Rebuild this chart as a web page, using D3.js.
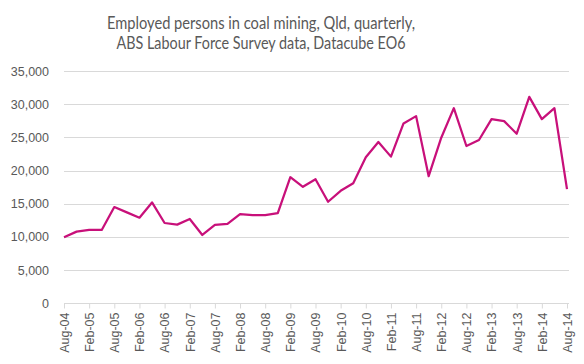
<!DOCTYPE html>
<html>
<head>
<meta charset="utf-8">
<script src="https://cdn.jsdelivr.net/npm/d3@7"></script>
<style>
html,body{margin:0;padding:0;background:#fff;}
svg{display:block;}
</style>
</head>
<body>
<svg id="chart" width="584" height="364"></svg>
<script>
const titleLines = ["Employed persons in coal mining, Qld, quarterly,", "ABS Labour Force Survey data, Datacube EO6"];
const quarters = ["Aug-04","Nov-04","Feb-05","May-05","Aug-05","Nov-05","Feb-06","May-06","Aug-06","Nov-06",
  "Feb-07","May-07","Aug-07","Nov-07","Feb-08","May-08","Aug-08","Nov-08","Feb-09","May-09",
  "Aug-09","Nov-09","Feb-10","May-10","Aug-10","Nov-10","Feb-11","May-11","Aug-11","Nov-11",
  "Feb-12","May-12","Aug-12","Nov-12","Feb-13","May-13","Aug-13","Nov-13","Feb-14","May-14","Aug-14"];
const employed = [9950,10800,11050,11050,14500,13700,12900,15200,12100,11850,
  12700,10300,11800,11950,13450,13300,13300,13600,19000,17550,
  18700,15300,16950,18100,22000,24300,22100,27100,28200,19150,
  24950,29400,23700,24600,27750,27450,25550,31100,27750,29400,17200];
const yTicks = [0,5000,10000,15000,20000,25000,30000,35000];

(function(){
const svg = d3.select("#chart");
const mLeft = 64, mRight = 567, mTop = 71, mBottom = 303.3;

const x = d3.scalePoint().domain(quarters).range([mLeft, mRight]);
const y = d3.scaleLinear().domain([0, 35000]).range([mBottom, mTop]);

// Title
const titleWidths = [308, 289];
svg.append("g").selectAll("text").data(titleLines).join("text")
  .attr("x", 261).attr("y", (d,i) => 29 + i*20)
  .attr("text-anchor", "middle")
  .attr("font-family", "Lato, 'Open Sans', sans-serif")
  .attr("font-size", 16.5)
  .attr("fill", "#595959")
  .attr("textLength", (d,i) => titleWidths[i])
  .attr("lengthAdjust", "spacingAndGlyphs")
  .text(d => d);

// Gridlines
svg.append("g").selectAll("line").data(yTicks.filter(d => d > 0)).join("line")
  .attr("x1", mLeft).attr("x2", mRight + 2)
  .attr("y1", d => Math.round(y(d)) + 0.5).attr("y2", d => Math.round(y(d)) + 0.5)
  .attr("stroke", "#D9D9D9").attr("stroke-width", 1);

// Y axis labels
const yAxis = d3.axisLeft(y).tickValues(yTicks).tickFormat(d3.format(",")).tickSize(0).tickPadding(15);
const gy = svg.append("g").attr("transform", `translate(${mLeft},0)`).call(yAxis);
gy.select(".domain").remove();
gy.selectAll("text").attr("font-family", "'Liberation Sans', Arial, sans-serif")
  .attr("font-size", 12.5).attr("fill", "#595959");

// X axis
const xTickVals = quarters.filter((d,i) => i % 2 === 0);
const xAxis = d3.axisBottom(x).tickValues(xTickVals).tickSize(5).tickSizeOuter(0).tickPadding(4);
const gx = svg.append("g").attr("transform", `translate(0,${Math.round(mBottom) + 0.5})`).call(xAxis);
gx.select(".domain").attr("stroke", "#D9D9D9").attr("d", `M${mLeft},0H${mRight + 2}`);
gx.selectAll(".tick line").attr("stroke", "#D9D9D9");
gx.selectAll("text")
  .attr("font-family", "'Liberation Sans', Arial, sans-serif")
  .attr("font-size", 12.5).attr("fill", "#595959")
  .attr("text-anchor", "end")
  .attr("transform", "rotate(-90)")
  .attr("x", -9).attr("y", 0).attr("dy", "0.35em");

// Line
const line = d3.line().x((d,i) => x(quarters[i])).y(d => y(d));
svg.append("path").datum(employed)
  .attr("d", line)
  .attr("fill", "none")
  .attr("stroke", "#C8107A")
  .attr("stroke-width", 2.25)
  .attr("stroke-linejoin", "round");
})();
</script>
</body>
</html>
